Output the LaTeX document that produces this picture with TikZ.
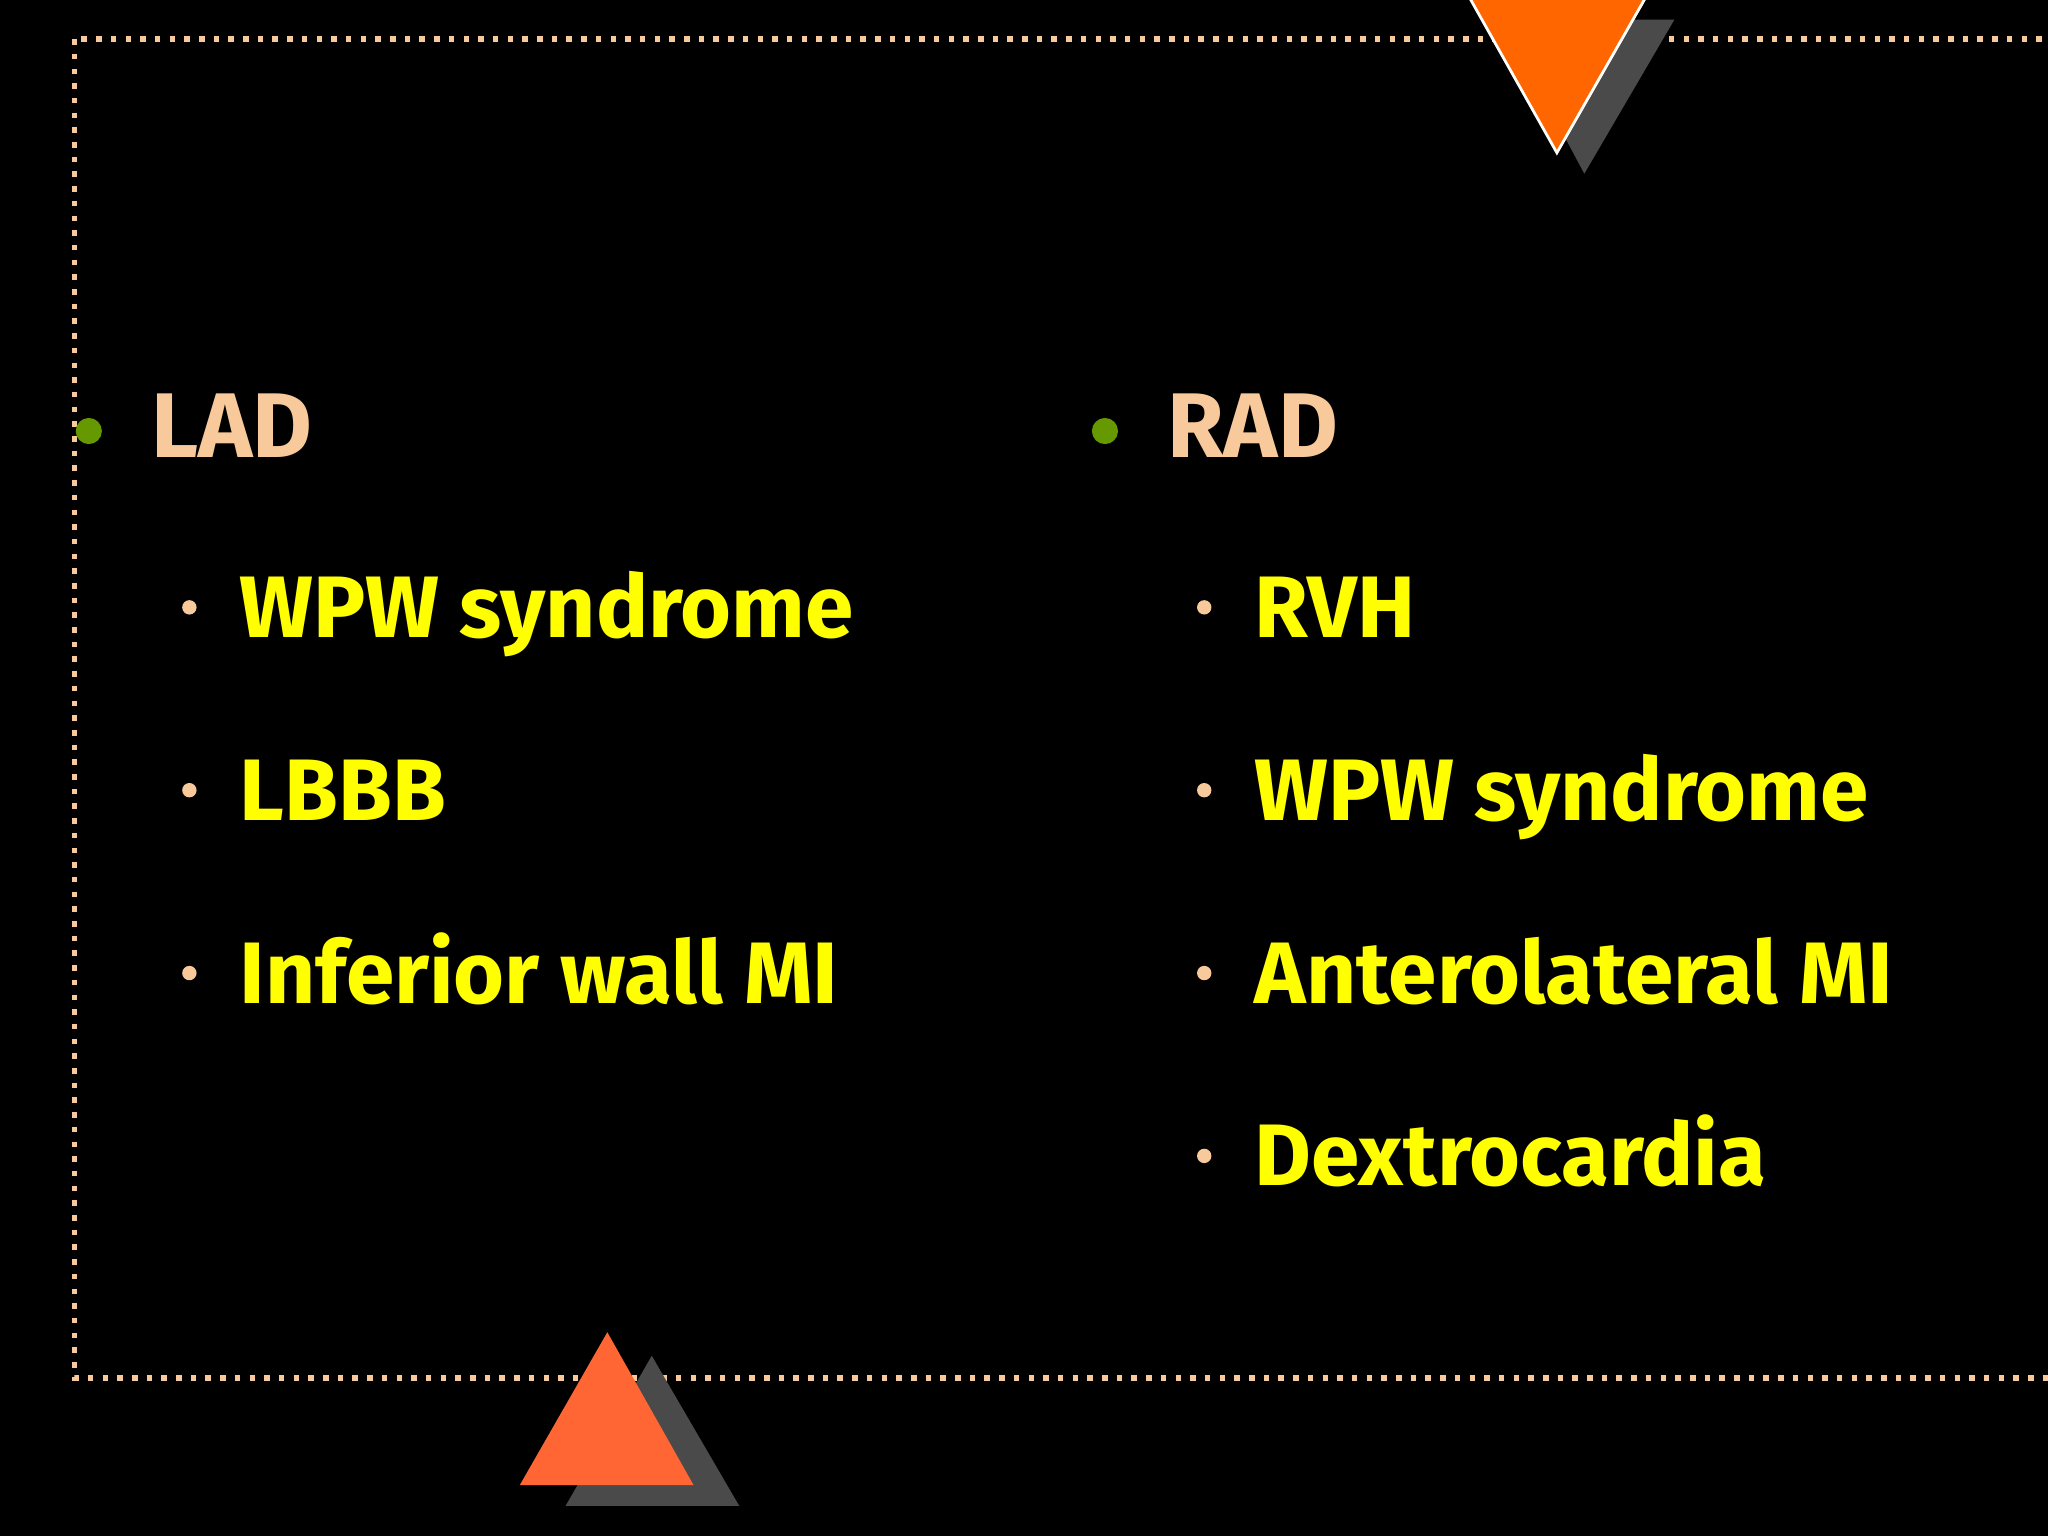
\documentclass[tikz,border=0pt]{standalone}
\usepackage{fontspec}
\setmainfont{Fira Sans}
\definecolor{peach}{HTML}{F8C99A}
\definecolor{yel}{HTML}{FFFF00}
\definecolor{org}{HTML}{FF6600}
\definecolor{org2}{HTML}{FF6633}
\definecolor{grn}{HTML}{669900}
\definecolor{shd}{HTML}{4A4A4A}
\begin{document}
\begin{tikzpicture}[x=0.01cm,y=-0.01cm,
  head/.style={anchor=base west,text=peach,font=\fontsize{20}{24}\selectfont\bfseries,inner sep=0},
  item/.style={anchor=base west,text=yel,font=\fontsize{19}{23}\selectfont\bfseries,inner sep=0},
  gdot/.style={fill=grn,circle,inner sep=0,minimum size=0.2cm},
  pdot/.style={fill=peach,circle,inner sep=0,minimum size=0.11cm}]
\fill[black] (0,0) rectangle (1568,1176);
\useasboundingbox (0,0) rectangle (1568,1176);
\draw[peach,line width=1.2pt,dotted] (57,30) rectangle (1580,1055);
% top triangle
\fill[shd] (1150,15) -- (1282,15) -- (1213,133) -- cycle;
\filldraw[fill=org,draw=white,line width=0.6pt] (1125,-2) -- (1260,-2) -- (1192,117) -- cycle;
% bottom triangle
\fill[shd] (433,1153) -- (566,1153) -- (499,1038) -- cycle;
\fill[org2] (398,1137) -- (531,1137) -- (465,1020) -- cycle;
% LAD
\node[gdot] (b1) at (68,330) {};
\node[head] (lad) at (115,350) {LAD};
\node[pdot] (d1) at (145,465) {};
\node[item] (l1) at (183,488) {WPW syndrome};
\node[pdot] (d2) at (145,605) {};
\node[item] (l2) at (183,628) {LBBB};
\node[pdot] (d3) at (145,745) {};
\node[item] (l3) at (183,768) {Inferior wall MI};
% RAD
\node[gdot] (b2) at (846,330) {};
\node[head] (rad) at (893,350) {RAD};
\node[pdot] (e1) at (922,465) {};
\node[item] (r1) at (960,488) {RVH};
\node[pdot] (e2) at (922,605) {};
\node[item] (r2) at (960,628) {WPW syndrome};
\node[pdot] (e3) at (922,745) {};
\node[item] (r3) at (960,768) {Anterolateral MI};
\node[pdot] (e4) at (922,885) {};
\node[item] (r4) at (960,908) {Dextrocardia};
\end{tikzpicture}
\end{document}
